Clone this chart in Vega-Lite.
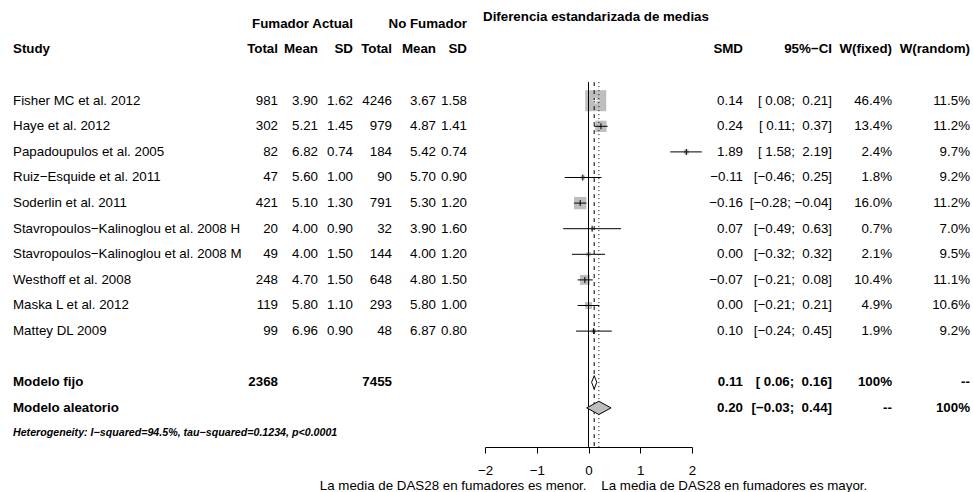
{
  "$schema": "https://vega.github.io/schema/vega-lite/v6.json",
  "padding": {"left": 13, "top": 0, "right": 0, "bottom": 48},
  "background": "white",
  "config": {
    "font": "Liberation Sans",
    "view": {"stroke": null},
    "text": {"fontSize": 13.33, "baseline": "middle", "fill": "black"},
    "axis": {"labelFont": "Liberation Sans", "titleFont": "Liberation Sans", "grid": false, "tickSize": 6, "tickCount": 5, "labelPadding": 10, "titlePadding": 2, "labelFontSize": 13.33, "titleFontSize": 13.33, "titleFontWeight": "normal", "domainColor": "black", "tickColor": "black", "labelColor": "black", "titleColor": "black", "labelFlush": false, "labelOverlap": false, "domainWidth": 1, "tickWidth": 1}
  },
  "datasets": {
    "studies": [
      {"study": "Fisher MC et al. 2012", "nE": 981, "mE": 3.90, "sE": 1.62, "nC": 4246, "mC": 3.67, "sC": 1.58, "smd": 0.14, "lo": 0.08, "hi": 0.21, "wf": 0.464, "wr": 0.115},
      {"study": "Haye et al. 2012", "nE": 302, "mE": 5.21, "sE": 1.45, "nC": 979, "mC": 4.87, "sC": 1.41, "smd": 0.24, "lo": 0.11, "hi": 0.37, "wf": 0.134, "wr": 0.112},
      {"study": "Papadoupulos et al. 2005", "nE": 82, "mE": 6.82, "sE": 0.74, "nC": 184, "mC": 5.42, "sC": 0.74, "smd": 1.89, "lo": 1.58, "hi": 2.19, "wf": 0.024, "wr": 0.097},
      {"study": "Ruiz−Esquide et al. 2011", "nE": 47, "mE": 5.60, "sE": 1.00, "nC": 90, "mC": 5.70, "sC": 0.90, "smd": -0.11, "lo": -0.46, "hi": 0.25, "wf": 0.018, "wr": 0.092},
      {"study": "Soderlin et al. 2011", "nE": 421, "mE": 5.10, "sE": 1.30, "nC": 791, "mC": 5.30, "sC": 1.20, "smd": -0.16, "lo": -0.28, "hi": -0.04, "wf": 0.160, "wr": 0.112},
      {"study": "Stavropoulos−Kalinoglou et al. 2008 H", "nE": 20, "mE": 4.00, "sE": 0.90, "nC": 32, "mC": 3.90, "sC": 1.60, "smd": 0.07, "lo": -0.49, "hi": 0.63, "wf": 0.007, "wr": 0.070},
      {"study": "Stavropoulos−Kalinoglou et al. 2008 M", "nE": 49, "mE": 4.00, "sE": 1.50, "nC": 144, "mC": 4.00, "sC": 1.20, "smd": 0.00, "lo": -0.32, "hi": 0.32, "wf": 0.021, "wr": 0.095},
      {"study": "Westhoff et al. 2008", "nE": 248, "mE": 4.70, "sE": 1.50, "nC": 648, "mC": 4.80, "sC": 1.50, "smd": -0.07, "lo": -0.21, "hi": 0.08, "wf": 0.104, "wr": 0.111},
      {"study": "Maska L et al. 2012", "nE": 119, "mE": 5.80, "sE": 1.10, "nC": 293, "mC": 5.80, "sC": 1.00, "smd": 0.00, "lo": -0.21, "hi": 0.21, "wf": 0.049, "wr": 0.106},
      {"study": "Mattey DL 2009", "nE": 99, "mE": 6.96, "sE": 0.90, "nC": 48, "mC": 6.87, "sC": 0.80, "smd": 0.10, "lo": -0.24, "hi": 0.45, "wf": 0.019, "wr": 0.092}
    ],
    "pooled": [
      {"study": "Modelo fijo", "nE": 2368, "nC": 7455, "smd": 0.11, "lo": 0.06, "hi": 0.16, "wf": "100%", "wr": "--"},
      {"study": "Modelo aleatorio", "smd": 0.20, "lo": -0.03, "hi": 0.44, "wf": "--", "wr": "100%"}
    ]
  },
  "bounds": "flush",
  "spacing": 18,
  "hconcat": [
    {
      "width": 225, "height": 447,
      "encoding": {"y": {"field": "study", "type": "nominal", "axis": null, "scale": {"type": "point", "domain": ["h0","h1","g1","Fisher MC et al. 2012","Haye et al. 2012","Papadoupulos et al. 2005","Ruiz−Esquide et al. 2011","Soderlin et al. 2011","Stavropoulos−Kalinoglou et al. 2008 H","Stavropoulos−Kalinoglou et al. 2008 M","Westhoff et al. 2008","Maska L et al. 2012","Mattey DL 2009","g2","Modelo fijo","Modelo aleatorio","het"], "padding": 0.7305, "align": 0.639}}},
      "layer": [
        {"data": {"values": [{"study": "h1"}]}, "mark": {"type": "text", "align": "left", "fontWeight": "bold"}, "encoding": {"x": {"value": 0}, "text": {"value": "Study"}}},
        {"data": {"name": "studies"}, "mark": {"type": "text", "align": "left"}, "encoding": {"x": {"value": 0}, "text": {"field": "study"}}},
        {"data": {"name": "pooled"}, "mark": {"type": "text", "align": "left", "fontWeight": "bold"}, "encoding": {"x": {"value": 0}, "text": {"field": "study"}}},
        {"data": {"values": [{"study": "het"}]}, "mark": {"type": "text", "align": "left", "fontWeight": "bold", "fontStyle": "italic", "fontSize": 10.67}, "encoding": {"x": {"value": 0}, "text": {"value": "Heterogeneity: I−squared=94.5%, tau−squared=0.1234, p<0.0001"}}}
      ]
    },
    {
      "width": 22, "height": 447,
      "encoding": {"y": {"field": "study", "type": "nominal", "axis": null, "scale": {"type": "point", "domain": ["h0","h1","g1","Fisher MC et al. 2012","Haye et al. 2012","Papadoupulos et al. 2005","Ruiz−Esquide et al. 2011","Soderlin et al. 2011","Stavropoulos−Kalinoglou et al. 2008 H","Stavropoulos−Kalinoglou et al. 2008 M","Westhoff et al. 2008","Maska L et al. 2012","Mattey DL 2009","g2","Modelo fijo","Modelo aleatorio","het"], "padding": 0.7305, "align": 0.639}}},
      "layer": [
        {"data": {"values": [{"study": "h1"}]}, "mark": {"type": "text", "align": "right", "fontWeight": "bold"}, "encoding": {"x": {"value": "width"}, "text": {"value": "Total"}}},
        {"data": {"name": "studies"}, "mark": {"type": "text", "align": "right"}, "encoding": {"x": {"value": "width"}, "text": {"field": "nE", "type": "quantitative", "format": "d"}}},
        {"data": {"name": "pooled"}, "transform": [{"filter": "isValid(datum.nE)"}], "mark": {"type": "text", "align": "right", "fontWeight": "bold"}, "encoding": {"x": {"value": "width"}, "text": {"field": "nE", "type": "quantitative", "format": "d"}}}
      ]
    },
    {
      "width": 22, "height": 447,
      "encoding": {"y": {"field": "study", "type": "nominal", "axis": null, "scale": {"type": "point", "domain": ["h0","h1","g1","Fisher MC et al. 2012","Haye et al. 2012","Papadoupulos et al. 2005","Ruiz−Esquide et al. 2011","Soderlin et al. 2011","Stavropoulos−Kalinoglou et al. 2008 H","Stavropoulos−Kalinoglou et al. 2008 M","Westhoff et al. 2008","Maska L et al. 2012","Mattey DL 2009","g2","Modelo fijo","Modelo aleatorio","het"], "padding": 0.7305, "align": 0.639}}},
      "layer": [
        {"data": {"values": [{"study": "h1"}]}, "mark": {"type": "text", "align": "right", "fontWeight": "bold"}, "encoding": {"x": {"value": "width"}, "text": {"value": "Mean"}}},
        {"data": {"name": "studies"}, "mark": {"type": "text", "align": "right"}, "encoding": {"x": {"value": "width"}, "text": {"field": "mE", "type": "quantitative", "format": ".2f"}}}
      ]
    },
    {
      "width": 17, "height": 447,
      "encoding": {"y": {"field": "study", "type": "nominal", "axis": null, "scale": {"type": "point", "domain": ["h0","h1","g1","Fisher MC et al. 2012","Haye et al. 2012","Papadoupulos et al. 2005","Ruiz−Esquide et al. 2011","Soderlin et al. 2011","Stavropoulos−Kalinoglou et al. 2008 H","Stavropoulos−Kalinoglou et al. 2008 M","Westhoff et al. 2008","Maska L et al. 2012","Mattey DL 2009","g2","Modelo fijo","Modelo aleatorio","het"], "padding": 0.7305, "align": 0.639}}},
      "layer": [
        {"data": {"values": [{"study": "h0"}]}, "mark": {"type": "text", "align": "right", "fontWeight": "bold"}, "encoding": {"x": {"value": "width"}, "text": {"value": "Fumador Actual"}}},
        {"data": {"values": [{"study": "h1"}]}, "mark": {"type": "text", "align": "right", "fontWeight": "bold"}, "encoding": {"x": {"value": "width"}, "text": {"value": "SD"}}},
        {"data": {"name": "studies"}, "mark": {"type": "text", "align": "right"}, "encoding": {"x": {"value": "width"}, "text": {"field": "sE", "type": "quantitative", "format": ".2f"}}}
      ]
    },
    {
      "width": 21, "height": 447,
      "encoding": {"y": {"field": "study", "type": "nominal", "axis": null, "scale": {"type": "point", "domain": ["h0","h1","g1","Fisher MC et al. 2012","Haye et al. 2012","Papadoupulos et al. 2005","Ruiz−Esquide et al. 2011","Soderlin et al. 2011","Stavropoulos−Kalinoglou et al. 2008 H","Stavropoulos−Kalinoglou et al. 2008 M","Westhoff et al. 2008","Maska L et al. 2012","Mattey DL 2009","g2","Modelo fijo","Modelo aleatorio","het"], "padding": 0.7305, "align": 0.639}}},
      "layer": [
        {"data": {"values": [{"study": "h1"}]}, "mark": {"type": "text", "align": "right", "fontWeight": "bold"}, "encoding": {"x": {"value": "width"}, "text": {"value": "Total"}}},
        {"data": {"name": "studies"}, "mark": {"type": "text", "align": "right"}, "encoding": {"x": {"value": "width"}, "text": {"field": "nC", "type": "quantitative", "format": "d"}}},
        {"data": {"name": "pooled"}, "transform": [{"filter": "isValid(datum.nC)"}], "mark": {"type": "text", "align": "right", "fontWeight": "bold"}, "encoding": {"x": {"value": "width"}, "text": {"field": "nC", "type": "quantitative", "format": "d"}}}
      ]
    },
    {
      "width": 26, "height": 447,
      "encoding": {"y": {"field": "study", "type": "nominal", "axis": null, "scale": {"type": "point", "domain": ["h0","h1","g1","Fisher MC et al. 2012","Haye et al. 2012","Papadoupulos et al. 2005","Ruiz−Esquide et al. 2011","Soderlin et al. 2011","Stavropoulos−Kalinoglou et al. 2008 H","Stavropoulos−Kalinoglou et al. 2008 M","Westhoff et al. 2008","Maska L et al. 2012","Mattey DL 2009","g2","Modelo fijo","Modelo aleatorio","het"], "padding": 0.7305, "align": 0.639}}},
      "layer": [
        {"data": {"values": [{"study": "h1"}]}, "mark": {"type": "text", "align": "right", "fontWeight": "bold"}, "encoding": {"x": {"value": "width"}, "text": {"value": "Mean"}}},
        {"data": {"name": "studies"}, "mark": {"type": "text", "align": "right"}, "encoding": {"x": {"value": "width"}, "text": {"field": "mC", "type": "quantitative", "format": ".2f"}}}
      ]
    },
    {
      "width": 13, "height": 447,
      "encoding": {"y": {"field": "study", "type": "nominal", "axis": null, "scale": {"type": "point", "domain": ["h0","h1","g1","Fisher MC et al. 2012","Haye et al. 2012","Papadoupulos et al. 2005","Ruiz−Esquide et al. 2011","Soderlin et al. 2011","Stavropoulos−Kalinoglou et al. 2008 H","Stavropoulos−Kalinoglou et al. 2008 M","Westhoff et al. 2008","Maska L et al. 2012","Mattey DL 2009","g2","Modelo fijo","Modelo aleatorio","het"], "padding": 0.7305, "align": 0.639}}},
      "layer": [
        {"data": {"values": [{"study": "h0"}]}, "mark": {"type": "text", "align": "right", "fontWeight": "bold"}, "encoding": {"x": {"value": "width"}, "text": {"value": "No Fumador"}}},
        {"data": {"values": [{"study": "h1"}]}, "mark": {"type": "text", "align": "right", "fontWeight": "bold"}, "encoding": {"x": {"value": "width"}, "text": {"value": "SD"}}},
        {"data": {"name": "studies"}, "mark": {"type": "text", "align": "right"}, "encoding": {"x": {"value": "width"}, "text": {"field": "sC", "type": "quantitative", "format": ".2f"}}}
      ]
    },
    {
      "width": 207, "height": 447,
      "encoding": {"y": {"field": "study", "type": "nominal", "axis": null, "scale": {"type": "point", "domain": ["h0","h1","g1","Fisher MC et al. 2012","Haye et al. 2012","Papadoupulos et al. 2005","Ruiz−Esquide et al. 2011","Soderlin et al. 2011","Stavropoulos−Kalinoglou et al. 2008 H","Stavropoulos−Kalinoglou et al. 2008 M","Westhoff et al. 2008","Maska L et al. 2012","Mattey DL 2009","g2","Modelo fijo","Modelo aleatorio","het"], "padding": 0.7305, "align": 0.639}}},
      "layer": [
        {"data": {"name": "studies"}, "mark": {"type": "point", "shape": "square", "filled": true, "color": "#BEBEBE", "opacity": 1}, "encoding": {
          "x": {"field": "smd", "type": "quantitative", "scale": {"domain": [-2, 2]}, "title": "La media de DAS28 en fumadores es menor.\u00a0\u00a0\u00a0\u00a0La media de DAS28 en fumadores es mayor.", "axis": {"values": [-2, -1, 0, 1, 2], "titleX": 108}},
          "size": {"field": "wf", "type": "quantitative", "scale": {"type": "linear", "domain": [0, 0.5], "range": [0, 475]}, "legend": null}}},
        {"data": {"values": [{"study": "h0"}]}, "mark": {"type": "text", "align": "left", "fontWeight": "bold", "dy": -7, "dx": -2}, "encoding": {"x": {"datum": -2, "type": "quantitative", "scale": {"domain": [-2, 2]}, "title": "La media de DAS28 en fumadores es menor.\u00a0\u00a0\u00a0\u00a0La media de DAS28 en fumadores es mayor."}, "text": {"value": "Diferencia estandarizada de medias"}}},
        {"data": {"values": [{"study": "g1"}]}, "mark": {"type": "rule", "color": "black", "strokeWidth": 1, "yOffset": 7}, "encoding": {"x": {"datum": 0, "type": "quantitative", "scale": {"domain": [-2, 2]}, "title": "La media de DAS28 en fumadores es menor.\u00a0\u00a0\u00a0\u00a0La media de DAS28 en fumadores es mayor."}, "y2": {"value": "height"}}},
        {"data": {"name": "pooled"}, "transform": [{"filter": "datum.study === 'Modelo fijo'"}], "mark": {"type": "rule", "color": "black", "strokeWidth": 1, "strokeDash": [4, 4], "yOffset": 7}, "encoding": {"x": {"field": "smd", "type": "quantitative", "scale": {"domain": [-2, 2]}, "title": "La media de DAS28 en fumadores es menor.\u00a0\u00a0\u00a0\u00a0La media de DAS28 en fumadores es mayor."}, "y": {"datum": "g1", "type": "nominal", "axis": null, "scale": {"type": "point", "domain": ["h0","h1","g1","Fisher MC et al. 2012","Haye et al. 2012","Papadoupulos et al. 2005","Ruiz−Esquide et al. 2011","Soderlin et al. 2011","Stavropoulos−Kalinoglou et al. 2008 H","Stavropoulos−Kalinoglou et al. 2008 M","Westhoff et al. 2008","Maska L et al. 2012","Mattey DL 2009","g2","Modelo fijo","Modelo aleatorio","het"], "padding": 0.7305, "align": 0.639}}, "y2": {"value": "height"}}},
        {"data": {"name": "pooled"}, "transform": [{"filter": "datum.study === 'Modelo aleatorio'"}], "mark": {"type": "rule", "color": "black", "strokeWidth": 1, "strokeDash": [1, 3], "yOffset": 7}, "encoding": {"x": {"field": "smd", "type": "quantitative", "scale": {"domain": [-2, 2]}, "title": "La media de DAS28 en fumadores es menor.\u00a0\u00a0\u00a0\u00a0La media de DAS28 en fumadores es mayor."}, "y": {"datum": "g1", "type": "nominal", "axis": null, "scale": {"type": "point", "domain": ["h0","h1","g1","Fisher MC et al. 2012","Haye et al. 2012","Papadoupulos et al. 2005","Ruiz−Esquide et al. 2011","Soderlin et al. 2011","Stavropoulos−Kalinoglou et al. 2008 H","Stavropoulos−Kalinoglou et al. 2008 M","Westhoff et al. 2008","Maska L et al. 2012","Mattey DL 2009","g2","Modelo fijo","Modelo aleatorio","het"], "padding": 0.7305, "align": 0.639}}, "y2": {"value": "height"}}},
        {"data": {"name": "studies"}, "mark": {"type": "rule", "strokeWidth": 1}, "encoding": {
          "x": {"field": "lo", "type": "quantitative", "scale": {"domain": [-2, 2]}, "title": "La media de DAS28 en fumadores es menor.\u00a0\u00a0\u00a0\u00a0La media de DAS28 en fumadores es mayor."},
          "x2": {"field": "hi"},
          "color": {"condition": {"test": "(datum.hi - datum.lo) * 51.75 < sqrt(datum.wf * 950)", "value": "white"}, "value": "black"}}},
        {"data": {"name": "studies"}, "mark": {"type": "tick", "orient": "vertical", "size": 6, "thickness": 1, "opacity": 1}, "encoding": {
          "x": {"field": "smd", "type": "quantitative", "scale": {"domain": [-2, 2]}, "title": "La media de DAS28 en fumadores es menor.\u00a0\u00a0\u00a0\u00a0La media de DAS28 en fumadores es mayor."},
          "color": {"condition": {"test": "(datum.hi - datum.lo) * 51.75 < sqrt(datum.wf * 950)", "value": "white"}, "value": "black"}}},
        {"data": {"name": "pooled"}, "transform": [{"filter": "datum.study === 'Modelo fijo'"}], "mark": {"type": "point", "shape": "M-0.39,0L0,-1L0.39,0L0,1Z", "size": 177, "filled": true, "fill": "white", "stroke": "black", "strokeWidth": 1, "opacity": 1}, "encoding": {
          "x": {"field": "smd", "type": "quantitative", "scale": {"domain": [-2, 2]}, "title": "La media de DAS28 en fumadores es menor.\u00a0\u00a0\u00a0\u00a0La media de DAS28 en fumadores es mayor."}}},
        {"data": {"name": "pooled"}, "transform": [{"filter": "datum.study === 'Modelo aleatorio'"}], "mark": {"type": "point", "shape": "M-1,0L0,-0.545L1,0L0,0.545Z", "size": 595, "filled": true, "fill": "#BEBEBE", "stroke": "black", "strokeWidth": 1, "opacity": 1}, "encoding": {
          "x": {"field": "smd", "type": "quantitative", "scale": {"domain": [-2, 2]}, "title": "La media de DAS28 en fumadores es menor.\u00a0\u00a0\u00a0\u00a0La media de DAS28 en fumadores es mayor."}}}
      ]
    },
    {
      "width": 33, "height": 447,
      "encoding": {"y": {"field": "study", "type": "nominal", "axis": null, "scale": {"type": "point", "domain": ["h0","h1","g1","Fisher MC et al. 2012","Haye et al. 2012","Papadoupulos et al. 2005","Ruiz−Esquide et al. 2011","Soderlin et al. 2011","Stavropoulos−Kalinoglou et al. 2008 H","Stavropoulos−Kalinoglou et al. 2008 M","Westhoff et al. 2008","Maska L et al. 2012","Mattey DL 2009","g2","Modelo fijo","Modelo aleatorio","het"], "padding": 0.7305, "align": 0.639}}},
      "layer": [
        {"data": {"values": [{"study": "h1"}]}, "mark": {"type": "text", "align": "right", "fontWeight": "bold"}, "encoding": {"x": {"value": "width"}, "text": {"value": "SMD"}}},
        {"data": {"name": "studies"}, "mark": {"type": "text", "align": "right"}, "encoding": {"x": {"value": "width"}, "text": {"field": "smd", "type": "quantitative", "format": ".2f"}}},
        {"data": {"name": "pooled"}, "mark": {"type": "text", "align": "right", "fontWeight": "bold"}, "encoding": {"x": {"value": "width"}, "text": {"field": "smd", "type": "quantitative", "format": ".2f"}}}
      ]
    },
    {
      "width": 71, "height": 447,
      "encoding": {"y": {"field": "study", "type": "nominal", "axis": null, "scale": {"type": "point", "domain": ["h0","h1","g1","Fisher MC et al. 2012","Haye et al. 2012","Papadoupulos et al. 2005","Ruiz−Esquide et al. 2011","Soderlin et al. 2011","Stavropoulos−Kalinoglou et al. 2008 H","Stavropoulos−Kalinoglou et al. 2008 M","Westhoff et al. 2008","Maska L et al. 2012","Mattey DL 2009","g2","Modelo fijo","Modelo aleatorio","het"], "padding": 0.7305, "align": 0.639}}},
      "layer": [
        {"data": {"values": [{"study": "h1"}]}, "mark": {"type": "text", "align": "right", "fontWeight": "bold"}, "encoding": {"x": {"value": "width"}, "text": {"value": "95%−CI"}}},
        {"data": {"name": "studies"}, "transform": [{"calculate": "'[' + (datum.lo < 0 ? '' : ' ') + format(datum.lo, '.2f') + '; ' + (datum.hi < 0 ? '' : '\u00a0') + format(datum.hi, '.2f') + ']'", "as": "ci"}], "mark": {"type": "text", "align": "right"}, "encoding": {"x": {"value": "width"}, "text": {"field": "ci"}}},
        {"data": {"name": "pooled"}, "transform": [{"calculate": "'[' + (datum.lo < 0 ? '' : ' ') + format(datum.lo, '.2f') + '; ' + (datum.hi < 0 ? '' : '\u00a0') + format(datum.hi, '.2f') + ']'", "as": "ci"}], "mark": {"type": "text", "align": "right", "fontWeight": "bold"}, "encoding": {"x": {"value": "width"}, "text": {"field": "ci"}}}
      ]
    },
    {
      "width": 42, "height": 447,
      "encoding": {"y": {"field": "study", "type": "nominal", "axis": null, "scale": {"type": "point", "domain": ["h0","h1","g1","Fisher MC et al. 2012","Haye et al. 2012","Papadoupulos et al. 2005","Ruiz−Esquide et al. 2011","Soderlin et al. 2011","Stavropoulos−Kalinoglou et al. 2008 H","Stavropoulos−Kalinoglou et al. 2008 M","Westhoff et al. 2008","Maska L et al. 2012","Mattey DL 2009","g2","Modelo fijo","Modelo aleatorio","het"], "padding": 0.7305, "align": 0.639}}},
      "layer": [
        {"data": {"values": [{"study": "h1"}]}, "mark": {"type": "text", "align": "right", "fontWeight": "bold"}, "encoding": {"x": {"value": "width"}, "text": {"value": "W(fixed)"}}},
        {"data": {"name": "studies"}, "mark": {"type": "text", "align": "right"}, "encoding": {"x": {"value": "width"}, "text": {"field": "wf", "type": "quantitative", "format": ".1%"}}},
        {"data": {"name": "pooled"}, "mark": {"type": "text", "align": "right", "fontWeight": "bold"}, "encoding": {"x": {"value": "width"}, "text": {"field": "wf"}}}
      ]
    },
    {
      "width": 60, "height": 447,
      "encoding": {"y": {"field": "study", "type": "nominal", "axis": null, "scale": {"type": "point", "domain": ["h0","h1","g1","Fisher MC et al. 2012","Haye et al. 2012","Papadoupulos et al. 2005","Ruiz−Esquide et al. 2011","Soderlin et al. 2011","Stavropoulos−Kalinoglou et al. 2008 H","Stavropoulos−Kalinoglou et al. 2008 M","Westhoff et al. 2008","Maska L et al. 2012","Mattey DL 2009","g2","Modelo fijo","Modelo aleatorio","het"], "padding": 0.7305, "align": 0.639}}},
      "layer": [
        {"data": {"values": [{"study": "h1"}]}, "mark": {"type": "text", "align": "right", "fontWeight": "bold"}, "encoding": {"x": {"value": "width"}, "text": {"value": "W(random)"}}},
        {"data": {"name": "studies"}, "mark": {"type": "text", "align": "right"}, "encoding": {"x": {"value": "width"}, "text": {"field": "wr", "type": "quantitative", "format": ".1%"}}},
        {"data": {"name": "pooled"}, "mark": {"type": "text", "align": "right", "fontWeight": "bold"}, "encoding": {"x": {"value": "width"}, "text": {"field": "wr"}}}
      ]
    }
  ]
}
